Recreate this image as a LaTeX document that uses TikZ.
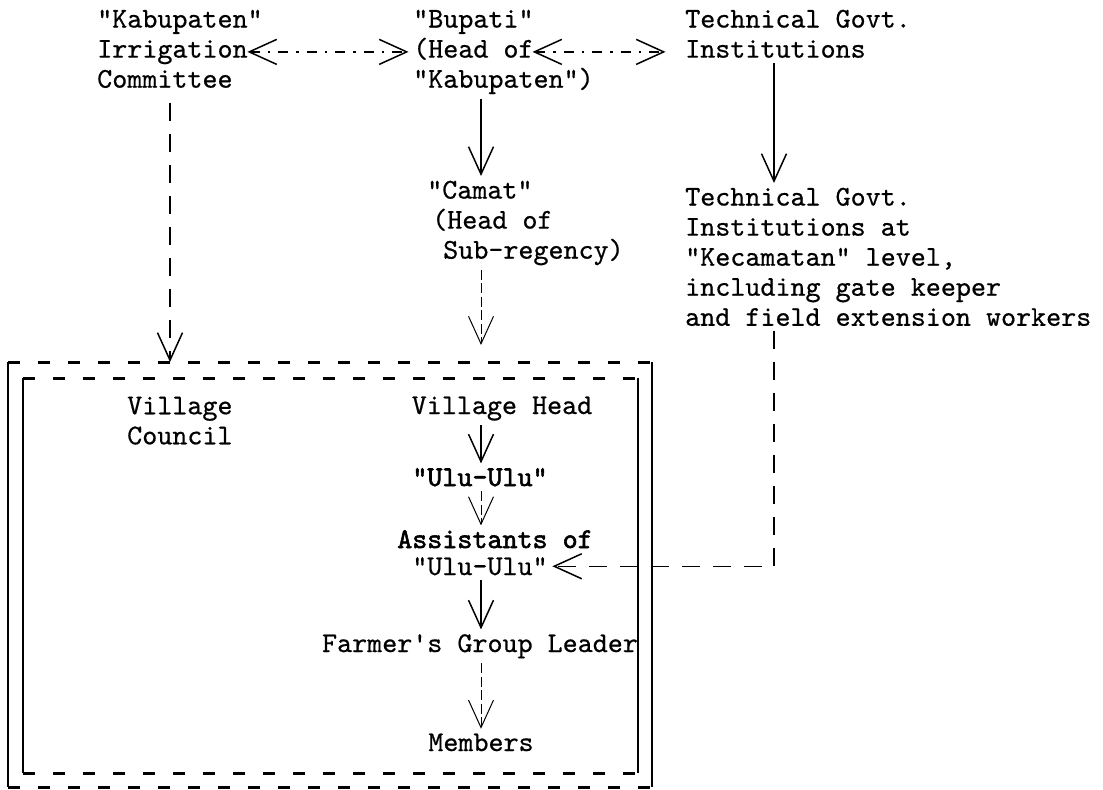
\documentclass[tikz,border=0pt]{standalone}
\usepackage{fontspec}
\newfontfamily\tw{lmmono10-regular.otf}[FakeBold=0.6]
\newfontfamily\twb{lmmono10-regular.otf}[FakeBold=2]
\usetikzlibrary{arrows.meta, calc}

\begin{document}
\begin{tikzpicture}[>={Straight Barb[length=5.5mm, width=5mm]},
	every node/.style={font=\tw\fontsize{16.3pt}{17.1pt}\selectfont, inner sep=2.5pt},
	txt/.style={anchor=north west, align=left},
	lvl/.style={anchor=base},
	strong/.style={font=\twb\fontsize{16.3pt}{17.1pt}\selectfont},
	flow/.style={->, line width=.3mm},
	thin flow/.style={->, line width=.2mm, dash pattern=on 2mm off .7mm},
	link/.style={<->, line width=.3mm, dash pattern=on 2mm off 1.6mm on .5mm off 1.6mm},
	ext/.style={->, line width=.3mm, dash pattern=on 3.6mm off 2.6mm},
	wall/.style={line width=.45mm},
	floor/.style={line width=.6mm, dash pattern=on 2.4mm off 3.6mm}]
%	\draw[gray!50, dashed, step=1] (0,-16) grid (22,0);
	\useasboundingbox (0,0) rectangle (22.06,-15.78);
	
	\node[txt] (kic) at (1.85,-.1) {"Kabupaten"\\Irrigation\\Committee};
	\node[txt] (bupati) at (8.17,-.1) {"Bupati"\\(Head of\\"Kabupaten")};
	\node[txt] (tech) at (13.61,-.1) {Technical Govt.\\Institutions};
	\node[txt] (camat) at (8.45,-3.52) {"Camat"\\\hspace{.1cm}(Head of\\\hspace{.32cm}Sub-regency)};
	\node[txt] (techkec) at (13.61,-3.66) {Technical Govt.\\Institutions at\\"Kecamatan" level,\\including gate keeper\\and field extension workers};
	
	% village level
	\node[txt] (council) at (2.45,-7.84) {Village\\Council};
	\node[lvl] (vhead) at (10.04,-8.28) {Village Head};
	\node[lvl, strong] (ulu) at (9.6,-9.72) {"Ulu-Ulu"};
	\node[lvl, strong] (assist) at (9.9,-10.96) {Assistants of};
	\node[lvl] (ulub) at (9.6,-11.5) {"Ulu-Ulu"};
	\node[lvl] (farmer) at (9.6,-13.04) {Farmer's Group Leader};
	\node[lvl] (members) at (9.62,-15.02) {Members};
	
	\coordinate (ax) at (9.62,0);
	\coordinate (kx) at (15.48,0);
	\coordinate (cx) at (3.4,0);
	\coordinate (cin) at (3.4,-7.24);
	\coordinate (vin) at (9.62,-6.9);
	
	% double frame
	\draw[wall] (.16,-7.24) -- (.16,-15.74) (13.04,-7.24) -- (13.04,-15.74);
	\draw[floor] (.16,-7.24) -- (13.04,-7.24) (.16,-15.74) -- (13.04,-15.74);
	\draw[wall] (.46,-7.56) -- (.46,-15.46) (12.76,-7.56) -- (12.76,-15.46);
	\draw[floor] (.46,-7.56) -- (12.76,-7.56) (.46,-15.46) -- (12.76,-15.46);
	
	\draw[link] ([xshift=-4mm]kic.east |- bupati.west) -- (bupati.west);
	\draw[link] ([xshift=2.48cm]bupati.west) -- ([xshift=-3mm]tech.west |- bupati.west);
	\draw[ext, shorten <=2mm] (kic.south -| cx) -- (cin);
	\draw[flow] (bupati.south -| ax) -- (camat.north -| ax);
	\draw[thin flow] (camat.south -| ax) -- (vin);
	\draw[flow] (tech.south -| kx) -- (techkec.north -| kx);
	\draw[ext] (techkec.south -| kx) |- (ulub.east);
	
	\draw[flow] (vhead.south -| ax) -- (ulu.north -| ax);
	\draw[thin flow] (ulu.south -| ax) -- (assist.north -| ax);
	\draw[flow] (ulub.south -| ax) -- (farmer.north -| ax);
	\draw[thin flow] (farmer.south -| ax) -- (members.north -| ax);
\end{tikzpicture}
\end{document}
